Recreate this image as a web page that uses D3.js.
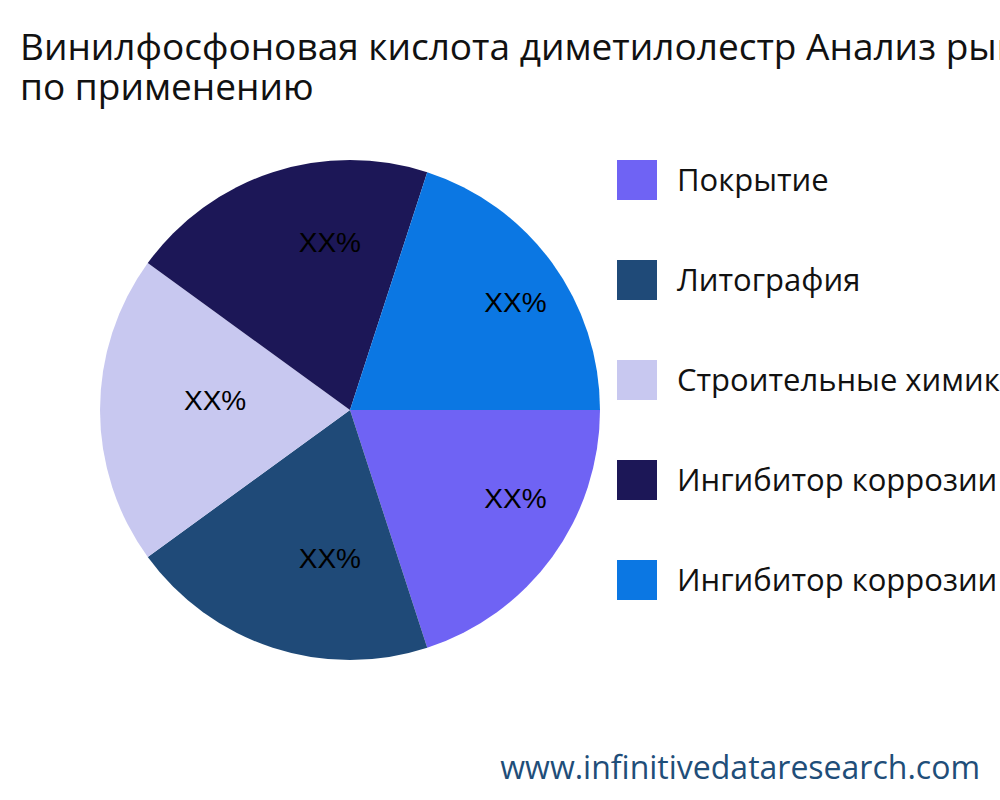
<!DOCTYPE html>
<html><head><meta charset="utf-8">
<script src="https://d3js.org/d3.v7.min.js"></script>
<style>body{margin:0;background:#fff}</style>
</head><body>
<script>
const categories = ["Покрытие","Литография","Строительные химикаты","Ингибитор коррозии","Ингибитор коррозии"];
const values = [20,20,20,20,20];
const labels = ["XX%","XX%","XX%","XX%","XX%"];
const colors = ["#6f63f4","#1f4a78","#c8c8f0","#1c1757","#0b77e3"];

const svg = d3.select("body").append("svg").attr("width",1000).attr("height",800);
const font = "'Open Sans','Noto Sans',sans-serif";
svg.append("text").attr("x",20).attr("y",60).attr("font-family",font).attr("font-size",37).attr("fill","#111")
  .text("Винилфосфоновая кислота диметилолестр Анализ рынка по применению");
svg.append("text").attr("x",20).attr("y",100).attr("font-family",font).attr("font-size",37).attr("fill","#111")
  .text("по применению");

const pie = d3.pie().sort(null).value(d=>d).startAngle(Math.PI/2).endAngle(Math.PI/2+2*Math.PI);
const arc = d3.arc().innerRadius(0).outerRadius(250);
const larc = d3.arc().innerRadius(166).outerRadius(166);
const g = svg.append("g").attr("transform","translate(350,410)");
const arcs = pie(values);
g.selectAll("path").data(arcs).enter().append("path").attr("d",arc).attr("fill",(d,i)=>colors[i]);
g.selectAll("text").data(arcs).enter().append("text")
  .attr("transform",d=>`translate(${larc.centroid(d)})`).attr("text-anchor","start")
  .attr("font-family","'Liberation Sans',Arial,sans-serif").attr("font-size",28).attr("fill","#000")
  .text((d,i)=>labels[i]);

const leg = svg.append("g");
categories.forEach((c,i)=>{
  leg.append("rect").attr("x",617).attr("y",160+i*100).attr("width",40).attr("height",40).attr("fill",colors[i]);
  leg.append("text").attr("x",677).attr("y",180+i*100).attr("dy","0.35em").attr("font-family",font)
    .attr("font-size",31).attr("fill","#111").text(c);
});
svg.append("text").attr("x",980).attr("y",779).attr("text-anchor","end").attr("font-family",font)
  .attr("font-size",32).attr("fill","#1f4e79").text("www.infinitivedataresearch.com");
</script>
</body></html>
